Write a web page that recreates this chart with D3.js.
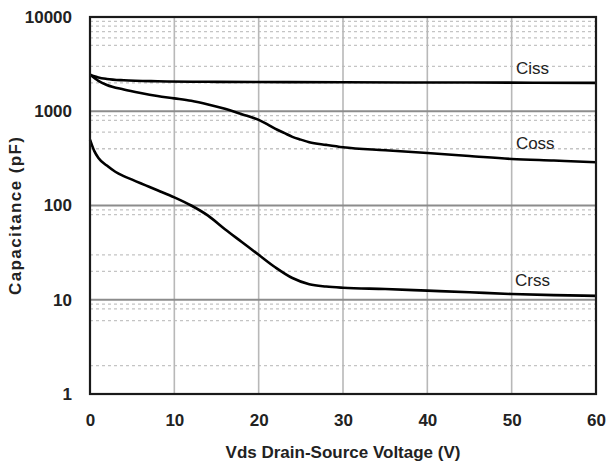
<!DOCTYPE html>
<html>
<head>
<meta charset="utf-8">
<script src="https://cdn.jsdelivr.net/npm/d3@7"></script>
<style>
  body { margin: 0; background: #fff; }
  text { font-family: Arial, "Liberation Sans", sans-serif; }
</style>
</head>
<body>
<div id="chart"></div>
<script>
var width = 606;
var height = 463;
var margin = {top: 17, right: 10, bottom: 69, left: 90};

// Vds (V)
var vdsCiss = [0, 0.5, 1, 2, 4, 8, 15, 30, 45, 60];
var ciss    = [2450, 2350, 2280, 2200, 2130, 2080, 2050, 2030, 2015, 2000];

var vdsCoss = [0, 1, 2, 4, 6, 8, 10, 12, 14, 16, 18, 20, 21, 22, 23, 24, 25, 26, 28, 30, 35, 40, 45, 50, 55, 60];
var coss    = [2450, 2100, 1900, 1700, 1560, 1450, 1370, 1290, 1180, 1060, 930, 810, 730, 650, 590, 535, 500, 470, 440, 415, 385, 360, 335, 312, 300, 288];

var vdsCrss = [0, 0.5, 1, 2, 3, 4, 5, 6, 7, 8, 10, 12, 14, 16, 18, 20, 22, 24, 26, 28, 30, 35, 40, 45, 50, 55, 60];
var crss    = [500, 380, 320, 265, 228, 205, 188, 172, 158, 145, 122, 100, 78, 56, 41, 30, 22, 17, 14.6, 13.8, 13.4, 13.0, 12.5, 12.0, 11.5, 11.2, 11.0];

var xTicks = [0, 10, 20, 30, 40, 50, 60];
var yTicks = [1, 10, 100, 1000, 10000];
var yMinorGrid = [9000, 8000, 7000, 6000, 5000, 3000, 2000, 900, 800, 600, 400, 90, 80, 30, 20, 9, 8, 6, 2];

var seriesNames = ["Ciss", "Coss", "Crss"];
var labelAt = [[50.5, 2900], [50.5, 460], [50.4, 16.2]];

var w = width - margin.left - margin.right;
var h = height - margin.top - margin.bottom;

var svg = d3.select("#chart").append("svg")
  .attr("width", width)
  .attr("height", height);

var g = svg.append("g").attr("transform", "translate(" + margin.left + "," + margin.top + ")");

var x = d3.scaleLinear().domain([0, 60]).range([0, w]);
var y = d3.scaleLog().domain([1, 10000]).range([h, 0]);

// minor dashed grid
g.append("g").selectAll("line")
  .data(yMinorGrid)
  .enter().append("line")
  .attr("x1", 0).attr("x2", w)
  .attr("y1", function(d) { return y(d); })
  .attr("y2", function(d) { return y(d); })
  .attr("stroke", "#c4c4c4")
  .attr("stroke-width", 1.3)
  .attr("stroke-dasharray", "3,3");

// vertical grid
g.append("g").selectAll("line")
  .data(xTicks.slice(1, -1))
  .enter().append("line")
  .attr("x1", function(d) { return x(d); })
  .attr("x2", function(d) { return x(d); })
  .attr("y1", 0).attr("y2", h)
  .attr("stroke", "#b8b8b8")
  .attr("stroke-width", 1.6);

// major horizontal grid
g.append("g").selectAll("line")
  .data(yTicks.slice(1, -1))
  .enter().append("line")
  .attr("x1", 0).attr("x2", w)
  .attr("y1", function(d) { return y(d); })
  .attr("y2", function(d) { return y(d); })
  .attr("stroke", "#8c8c8c")
  .attr("stroke-width", 2);

// curves
var series = [
  {x: vdsCiss, y: ciss},
  {x: vdsCoss, y: coss},
  {x: vdsCrss, y: crss}
];

var line = d3.line()
  .x(function(d) { return x(d[0]); })
  .y(function(d) { return y(d[1]); })
  .curve(d3.curveMonotoneX);

g.append("g").selectAll("path")
  .data(series)
  .enter().append("path")
  .attr("d", function(s) { return line(d3.zip(s.x, s.y)); })
  .attr("fill", "none")
  .attr("stroke", "#000")
  .attr("stroke-width", 2.6);

// plot frame
g.append("rect")
  .attr("x", 0).attr("y", 0)
  .attr("width", w).attr("height", h)
  .attr("fill", "none")
  .attr("stroke", "#1a1a1a")
  .attr("stroke-width", 2.2);

// series labels
g.append("g").selectAll("text")
  .data(seriesNames)
  .enter().append("text")
  .attr("x", function(d, i) { return x(labelAt[i][0]); })
  .attr("y", function(d, i) { return y(labelAt[i][1]); })
  .attr("dy", "0.35em")
  .style("font-size", "17px")
  .attr("fill", "#222")
  .text(function(d) { return d; });

// axes (labels only)
var yAxis = g.append("g")
  .call(d3.axisLeft(y).tickValues(yTicks).tickFormat(d3.format("d")).tickSize(0).tickPadding(18));
var xAxis = g.append("g")
  .attr("transform", "translate(0," + h + ")")
  .call(d3.axisBottom(x).tickValues(xTicks).tickSize(0).tickPadding(20));

[yAxis, xAxis].forEach(function(a) {
  a.select(".domain").remove();
  a.selectAll("text")
    .style("font-family", "Arial, 'Liberation Sans', sans-serif")
    .style("font-size", "17px")
    .style("font-weight", "bold")
    .attr("fill", "#222");
});

svg.append("text")
  .attr("x", margin.left + w / 2)
  .attr("y", 452)
  .attr("dy", "0.35em")
  .attr("text-anchor", "middle")
  .style("font-size", "17px")
  .style("font-weight", "bold")
  .attr("fill", "#222")
  .text("Vds Drain-Source Voltage (V)");

svg.append("text")
  .attr("transform", "translate(15,216) rotate(-90)")
  .attr("dy", "0.35em")
  .attr("text-anchor", "middle")
  .attr("textLength", 158)
  .attr("lengthAdjust", "spacing")
  .style("font-size", "17px")
  .style("font-weight", "bold")
  .attr("fill", "#222")
  .text("Capacitance (pF)");
</script>
</body>
</html>
